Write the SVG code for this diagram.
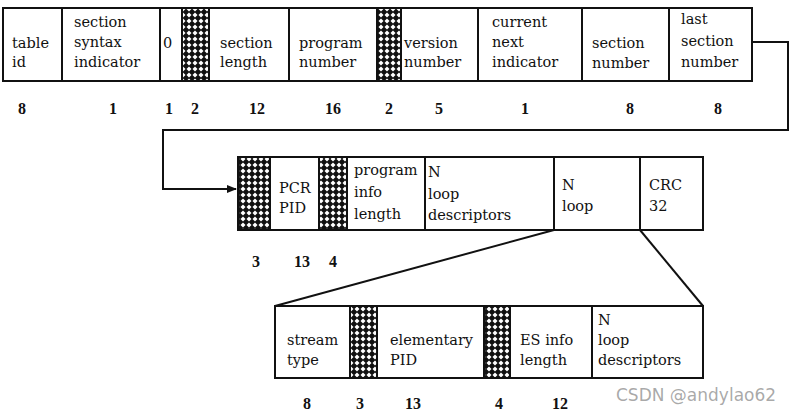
<svg xmlns="http://www.w3.org/2000/svg" width="798" height="415" viewBox="0 0 798 415">
<defs>
<pattern id="hatch" width="6" height="6" patternUnits="userSpaceOnUse">
<rect width="6" height="6" fill="#111"/>
<polygon points="3,0.5 5.5,3 3,5.5 0.5,3" fill="#fff"/>
</pattern>
<marker id="arr" markerWidth="10" markerHeight="8" refX="9" refY="4" orient="auto" markerUnits="userSpaceOnUse">
<path d="M0,0 L10,4 L0,8 z" fill="#111"/>
</marker>
<style>
.box{fill:#fff;stroke:#111;stroke-width:2}
.hb{fill:url(#hatch);stroke:#111;stroke-width:2}
.t{font-family:"DejaVu Serif",serif;font-size:14.5px;fill:#111}
.n{font-family:"Liberation Serif",serif;font-size:16px;font-weight:bold;fill:#111;text-anchor:middle}
.ln{fill:none;stroke:#111;stroke-width:2}
</style>
</defs>
<rect width="798" height="415" fill="#fff"/>

<g id="connectors">
<polyline class="ln" points="752,42 788,42 788,130 163,130 163,189 236,189" marker-end="url(#arr)"/>
<line class="ln" x1="554" y1="230" x2="275" y2="306"/>
<line class="ln" x1="640" y1="230" x2="703" y2="306"/>
</g>

<g id="row1">
<g id="table-id"><rect class="box" x="3" y="8" width="59" height="73"/><text class="t" x="12" y="48">table</text><text class="t" x="12" y="67">id</text></g>
<g id="section-syntax-indicator"><rect class="box" x="62" y="8" width="98" height="73"/><text class="t" x="74" y="27">section</text><text class="t" x="74" y="47">syntax</text><text class="t" x="74" y="67">indicator</text></g>
<g id="zero"><rect class="box" x="160" y="8" width="22" height="73"/><text class="t" x="163" y="48">0</text></g>
<g id="reserved1"><rect class="hb" x="182" y="8" width="27" height="73"/></g>
<g id="section-length"><rect class="box" x="209" y="8" width="80" height="73"/><text class="t" x="220" y="48">section</text><text class="t" x="220" y="67">length</text></g>
<g id="program-number"><rect class="box" x="289" y="8" width="88" height="73"/><text class="t" x="299" y="48">program</text><text class="t" x="299" y="67">number</text></g>
<g id="reserved2"><rect class="hb" x="377" y="8" width="24" height="73"/></g>
<g id="version-number"><rect class="box" x="401" y="8" width="77" height="73"/><text class="t" x="404" y="48">version</text><text class="t" x="404" y="67">number</text></g>
<g id="current-next-indicator"><rect class="box" x="478" y="8" width="104" height="73"/><text class="t" x="492" y="27">current</text><text class="t" x="492" y="47">next</text><text class="t" x="492" y="67">indicator</text></g>
<g id="section-number"><rect class="box" x="582" y="8" width="87" height="73"/><text class="t" x="592" y="48">section</text><text class="t" x="592" y="68">number</text></g>
<g id="last-section-number"><rect class="box" x="669" y="8" width="83" height="73"/><text class="t" x="681" y="24">last</text><text class="t" x="681" y="46">section</text><text class="t" x="681" y="67">number</text></g>
<g id="row1-bits">
<text class="n" x="22" y="114">8</text><text class="n" x="113" y="114">1</text><text class="n" x="169" y="114">1</text><text class="n" x="195" y="114">2</text><text class="n" x="257" y="114">12</text><text class="n" x="333" y="114">16</text><text class="n" x="389" y="114">2</text><text class="n" x="439" y="114">5</text><text class="n" x="525" y="114">1</text><text class="n" x="630" y="114">8</text><text class="n" x="718" y="114">8</text>
</g>
</g>

<g id="row2">
<g id="reserved3"><rect class="hb" x="238" y="157" width="32" height="73"/></g>
<g id="pcr-pid"><rect class="box" x="270" y="157" width="49" height="73"/><text class="t" x="279" y="193">PCR</text><text class="t" x="279" y="213">PID</text></g>
<g id="reserved4"><rect class="hb" x="319" y="157" width="28" height="73"/></g>
<g id="program-info-length"><rect class="box" x="347" y="157" width="78" height="73"/><text class="t" x="354" y="175">program</text><text class="t" x="354" y="197">info</text><text class="t" x="354" y="219">length</text></g>
<g id="n-loop-descriptors"><rect class="box" x="425" y="157" width="129" height="73"/><text class="t" x="428" y="177">N</text><text class="t" x="428" y="199">loop</text><text class="t" x="428" y="220">descriptors</text></g>
<g id="n-loop"><rect class="box" x="554" y="157" width="86" height="73"/><text class="t" x="562" y="190">N</text><text class="t" x="562" y="211">loop</text></g>
<g id="crc32"><rect class="box" x="640" y="157" width="63" height="73"/><text class="t" x="649" y="190">CRC</text><text class="t" x="649" y="211">32</text></g>
<g id="row2-bits"><text class="n" x="256" y="267">3</text><text class="n" x="302" y="267">13</text><text class="n" x="333" y="267">4</text></g>
</g>

<g id="row3">
<g id="stream-type"><rect class="box" x="275" y="306" width="75" height="72"/><text class="t" x="287" y="345">stream</text><text class="t" x="287" y="365">type</text></g>
<g id="reserved5"><rect class="hb" x="350" y="306" width="27" height="72"/></g>
<g id="elementary-pid"><rect class="box" x="377" y="306" width="107" height="72"/><text class="t" x="390" y="345">elementary</text><text class="t" x="390" y="365">PID</text></g>
<g id="reserved6"><rect class="hb" x="484" y="306" width="26" height="72"/></g>
<g id="es-info-length"><rect class="box" x="510" y="306" width="82" height="72"/><text class="t" x="520" y="345">ES info</text><text class="t" x="520" y="365">length</text></g>
<g id="es-n-loop-descriptors"><rect class="box" x="592" y="306" width="111" height="72"/><text class="t" x="598" y="325">N</text><text class="t" x="598" y="345">loop</text><text class="t" x="598" y="365">descriptors</text></g>
<g id="row3-bits"><text class="n" x="307" y="409">8</text><text class="n" x="360" y="409">3</text><text class="n" x="413" y="409">13</text><text class="n" x="499" y="409">4</text><text class="n" x="560" y="409">12</text></g>
</g>

<text x="616" y="401" font-family="DejaVu Sans,sans-serif" font-size="17" fill="#9a9a9a" fill-opacity="0.85">CSDN @andylao62</text>
</svg>
